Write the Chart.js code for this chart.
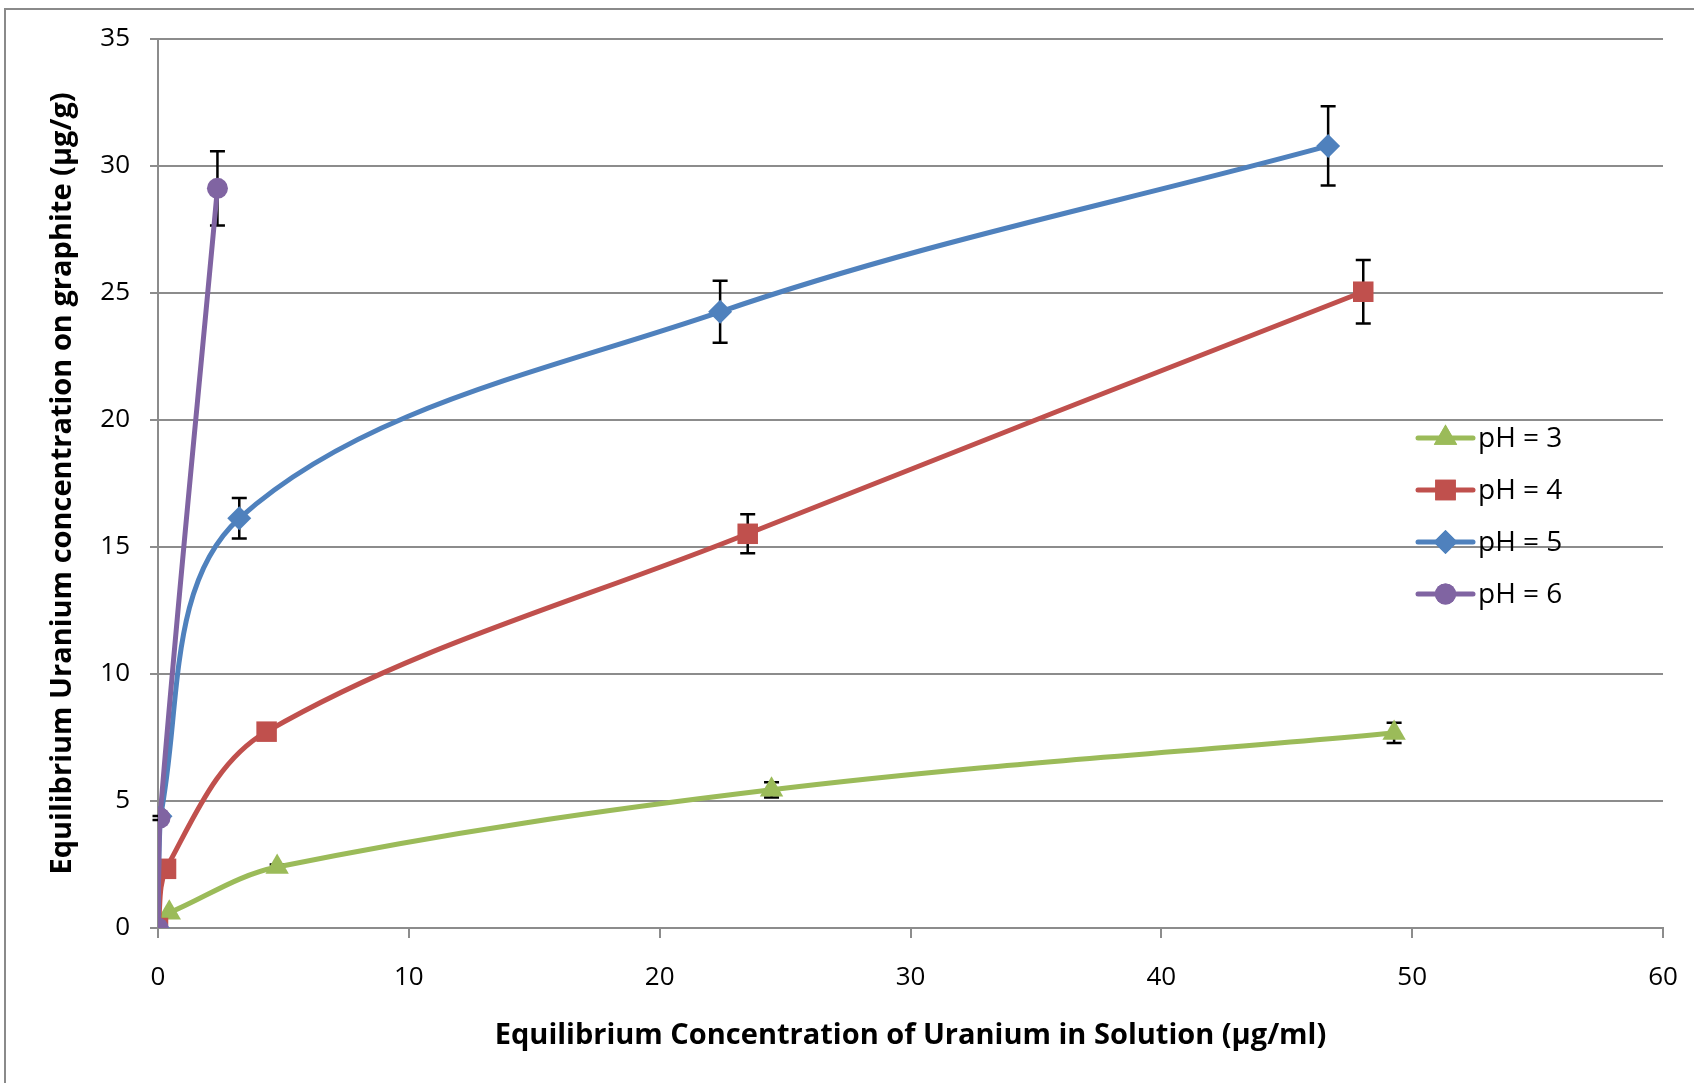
<!DOCTYPE html>
<html>
<head>
<meta charset="utf-8">
<title>Uranium adsorption isotherms</title>
<script src="https://cdn.jsdelivr.net/npm/chart.js@4/dist/chart.umd.min.js"></script>
<style>
  html, body { margin: 0; padding: 0; background: #fff; }
  #wrap { position: relative; width: 1694px; height: 1083px; }
</style>
</head>
<body>
<div id="wrap"><canvas id="chart" width="1694" height="1083"></canvas></div>
<script>
// data
const seriesNames = ['pH = 3', 'pH = 4', 'pH = 5', 'pH = 6'];

const ph3X = [0.45, 4.75, 24.46, 49.28];
const ph3Y = [0.6, 2.4, 5.44, 7.68];
const ph3Err = [0, 0.1, 0.3, 0.4];

const ph4X = [0, 0.32, 4.33, 23.51, 48.05];
const ph4Y = [0, 2.33, 7.73, 15.52, 25.05];
const ph4Err = [0, 0, 0.3, 0.77, 1.25];

const ph5X = [0, 0.1, 3.24, 22.41, 46.65];
const ph5Y = [0, 4.4, 16.13, 24.26, 30.79];
const ph5Err = [0, 0, 0.8, 1.22, 1.56];

const ph6X = [0, 0.08, 2.37];
const ph6Y = [0, 4.33, 29.12];
const ph6Err = [0, 0.08, 1.46];

const xTicks = [0, 10, 20, 30, 40, 50, 60];
const yTicks = [0, 5, 10, 15, 20, 25, 30, 35];

const colors = ['#9BBB59', '#C0504D', '#4F81BD', '#8064A2'];
const pointStyles = ['triangle', 'rect', 'rectRot', 'circle'];
const pointSizes = [13.5, 14.5, 12, 10.5];

function toPoints(xs, ys) {
  return xs.map((x, i) => ({ x: x, y: ys[i] }));
}

const allX = [ph3X, ph4X, ph5X, ph6X];
const allY = [ph3Y, ph4Y, ph5Y, ph6Y];
const allErr = [ph3Err, ph4Err, ph5Err, ph6Err];

const datasets = seriesNames.map((name, i) => ({
  label: name,
  data: toPoints(allX[i], allY[i]),
  errors: allErr[i],
  showLine: true,
  tension: 0.35,
  borderColor: colors[i],
  backgroundColor: colors[i],
  borderWidth: 5,
  pointStyle: pointStyles[i],
  pointRadius: pointSizes[i],
  pointHoverRadius: pointSizes[i],
  pointBorderWidth: 0,
  order: 4 - i
}));

// gray frame at top and left, like the exported chart
const framePlugin = {
  id: 'frame',
  beforeDraw(chart) {
    const ctx = chart.ctx;
    ctx.save();
    ctx.fillStyle = '#8a8a8a';
    ctx.fillRect(4, 8, chart.width, 2);
    ctx.fillRect(4, 8, 2, chart.height);
    ctx.restore();
  }
};

// vertical error bars, drawn under the markers
const errorBarPlugin = {
  id: 'errorBars',
  beforeDatasetsDraw(chart) {
    const ctx = chart.ctx;
    const xs = chart.scales.x, ys = chart.scales.y;
    ctx.save();
    ctx.strokeStyle = '#000';
    ctx.lineWidth = 2.5;
    chart.data.datasets.forEach(ds => {
      ds.data.forEach((p, j) => {
        const e = ds.errors[j];
        if (!e) return;
        const px = xs.getPixelForValue(p.x);
        const top = ys.getPixelForValue(p.y + e);
        const bot = ys.getPixelForValue(p.y - e);
        ctx.beginPath();
        ctx.moveTo(px, top); ctx.lineTo(px, bot);
        ctx.moveTo(px - 7.5, top); ctx.lineTo(px + 7.5, top);
        ctx.moveTo(px - 7.5, bot); ctx.lineTo(px + 7.5, bot);
        ctx.stroke();
      });
    });
    ctx.restore();
  }
};

// legend inside the plot, on the right
const legendPlugin = {
  id: 'insideLegend',
  afterDatasetsDraw(chart) {
    const ctx = chart.ctx;
    const x0 = 1418, x1 = 1473, textX = 1478;
    const rows = [438, 490, 542, 594];
    ctx.save();
    chart.data.datasets.forEach((ds, i) => {
      const y = rows[i];
      ctx.strokeStyle = ds.borderColor;
      ctx.lineWidth = 5;
      ctx.lineCap = 'round';
      ctx.beginPath();
      ctx.moveTo(x0, y); ctx.lineTo(x1, y);
      ctx.stroke();
      ctx.fillStyle = ds.backgroundColor;
      Chart.helpers.drawPoint(ctx, { pointStyle: ds.pointStyle, radius: ds.pointRadius, borderWidth: 0 }, (x0 + x1) / 2, y);
      ctx.fill();
      ctx.fillStyle = '#000';
      ctx.font = '28px "Open Sans"';
      ctx.textBaseline = 'middle';
      ctx.textAlign = 'left';
      ctx.fillText(ds.label, textX, y + 1);
    });
    ctx.restore();
  }
};

const gridColor = '#8c8c8c';

new Chart(document.getElementById('chart'), {
  type: 'scatter',
  data: { datasets: datasets },
  plugins: [framePlugin, errorBarPlugin, legendPlugin],
  options: {
    responsive: false,
    animation: false,
    events: [],
    layout: { padding: { top: 39, right: 31, left: 0, bottom: 0 } },
    plugins: {
      legend: { display: false },
      tooltip: { enabled: false }
    },
    scales: {
      x: {
        type: 'linear',
        min: 0,
        max: 60,
        afterBuildTicks: s => { s.ticks = xTicks.map(v => ({ value: v })); },
        afterFit: s => {
          s.height = 155;
          s.paddingLeft = 0;
          s.paddingRight = 0;
        },
        border: { color: gridColor, width: 2 },
        grid: { drawOnChartArea: false, drawTicks: true, tickLength: 10, color: gridColor, lineWidth: 2 },
        ticks: { color: '#000', font: { family: '"Open Sans"', size: 26 }, padding: 24 },
        title: {
          display: true,
          text: 'Equilibrium Concentration of Uranium in Solution (µg/ml)',
          color: '#000',
          font: { family: '"Open Sans"', size: 29, weight: 'bold' },
          padding: { bottom: 30 }
        }
      },
      y: {
        type: 'linear',
        min: 0,
        max: 35,
        afterBuildTicks: s => { s.ticks = yTicks.map(v => ({ value: v })); },
        afterFit: s => { s.width = 158; },
        border: { color: gridColor, width: 2 },
        grid: { drawTicks: true, tickLength: 8, color: gridColor, lineWidth: 2 },
        ticks: { color: '#000', font: { family: '"Open Sans"', size: 26 }, padding: 20 },
        title: {
          display: true,
          text: 'Equilibrium Uranium concentration on graphite (µg/g)',
          color: '#000',
          font: { family: '"Open Sans"', size: 29, weight: 'bold' },
          padding: { top: 45 }
        }
      }
    }
  }
});
</script>
</body>
</html>
